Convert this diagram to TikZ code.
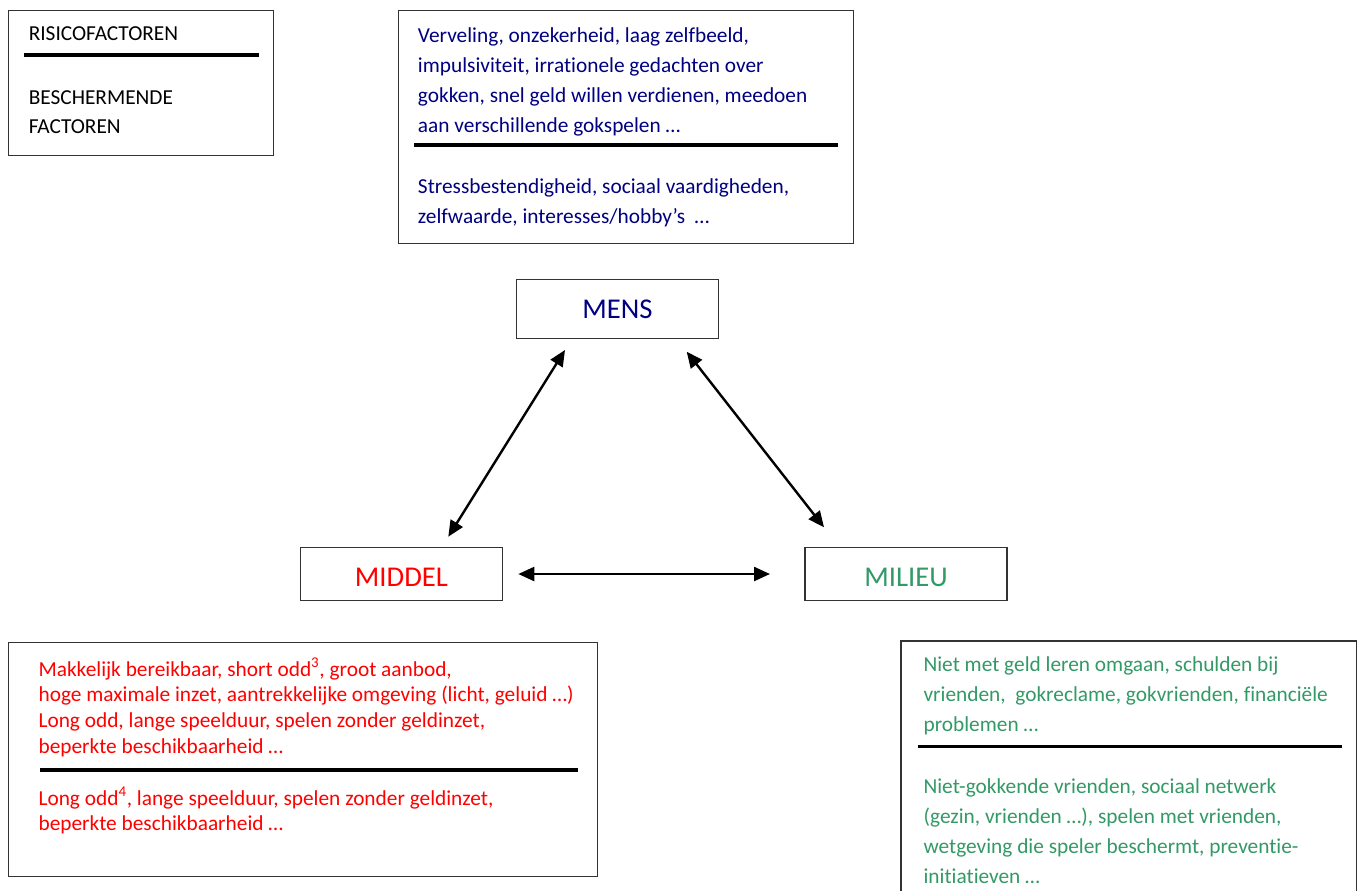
\documentclass[tikz,border=0pt]{standalone}
\usepackage{fontspec}
\setmainfont{Carlito}[Ligatures=NoCommon]
\usetikzlibrary{arrows.meta}
\definecolor{mensblue}{RGB}{0,0,128}
\definecolor{midred}{RGB}{255,0,0}
\definecolor{milgreen}{RGB}{51,153,102}
\newcommand{\lowlabel}[1]{\raisebox{-3pt}[\height][0pt]{#1}}
\begin{document}
\begin{tikzpicture}[x=0.75pt,y=-0.75pt,
  box/.style={draw=black!80,line width=0.95pt,anchor=north west,inner sep=0pt},
  txt/.style={anchor=base west,inner sep=0pt,font=\fontsize{16}{19}\selectfont},
  rulebar/.style={line width=2.3pt},
  mainbox/.style={draw=black!80,line width=0.95pt,minimum width=202*0.75pt,inner sep=0pt,font=\fontsize{21.5}{26}\selectfont},
  biarrow/.style={line width=1.8pt,{Triangle[length=12pt,width=10.5pt]}-{Triangle[length=12pt,width=10.5pt]}}]

\useasboundingbox[fill=white] (0,0) rectangle (1363,890);

% legend
\node[box,minimum width=265.5*0.75pt,minimum height=144.5*0.75pt] (legend) at (7.5,10) {};
\node[txt] (leg1) at (28.5,40.7) {RISICOFACTOREN};
\coordinate (legrA) at (24,55);
\coordinate (legrB) at (259,55);
\draw[rulebar] (legrA) -- (legrB);
\node[txt] (leg2) at (28.5,104) {BESCHERMENDE};
\node[txt] (leg3) at (28.5,133) {FACTOREN};

% MENS factors
\node[box,minimum width=455*0.75pt,minimum height=233*0.75pt] (mensbox) at (397.5,10) {};
\foreach \t [count=\i] in {{Verveling, onzekerheid, laag zelfbeeld,},{impulsiviteit, irrationele gedachten over},{gokken, snel geld willen verdienen, meedoen},{aan verschillende gokspelen …}}
  \node[txt,text=mensblue] (mensr\i) at (417.7,{42.3+30*(\i-1)}) {\t};
\coordinate (mensrA) at (414,145);
\coordinate (mensrB) at (838,145);
\draw[rulebar] (mensrA) -- (mensrB);
\foreach \t [count=\i] in {{Stressbestendigheid, sociaal vaardigheden,},{zelfwaarde, interesses/hobby’s\ \ …}}
  \node[txt,text=mensblue] (mensp\i) at (417.7,{193.3+30*(\i-1)}) {\t};

% MIDDEL factors
\node[box,minimum width=589*0.75pt,minimum height=234.2*0.75pt] (midbox) at (7.5,641.5) {};
\foreach \t [count=\i] in {{Makkelijk bereikbaar, short odd\textsuperscript{3}, groot aanbod,},{hoge maximale inzet, aantrekkelijke omgeving (licht, geluid …)},{Long odd, lange speelduur, spelen zonder geldinzet,},{beperkte beschikbaarheid …}}
  \node[txt,text=midred] (midr\i) at (38.3,{676+25.7*(\i-1)}) {\t};
\coordinate (midrA) at (40,770);
\coordinate (midrB) at (578,770);
\draw[rulebar] (midrA) -- (midrB);
\foreach \t [count=\i] in {{Long odd\textsuperscript{4}, lange speelduur, spelen zonder geldinzet,},{beperkte beschikbaarheid …}}
  \node[txt,text=midred] (midp\i) at (38.3,{805+25.5*(\i-1)}) {\t};

% MILIEU factors (box runs off the bottom)
\coordinate (milBL) at (901,900);
\coordinate (milTL) at (901,641);
\coordinate (milTR) at (1356.7,641);
\coordinate (milBR) at (1356.7,900);
\draw[draw=black!80,line width=0.95pt] (milBL) -- (milTL) -- (milTR) -- (milBR);
\foreach \t [count=\i] in {{Niet met geld leren omgaan, schulden bij},{vrienden,\ \ gokreclame, gokvrienden, financiële},{problemen …}}
  \node[txt,text=milgreen] (milr\i) at (923.3,{671.7+30*(\i-1)}) {\t};
\coordinate (milrA) at (917.7,746.7);
\coordinate (milrB) at (1341.7,746.7);
\draw[rulebar] (milrA) -- (milrB);
\foreach \t [count=\i] in {{Niet-gokkende vrienden, sociaal netwerk},{(gezin, vrienden …), spelen met vrienden,},{wetgeving die speler beschermt, preventie-},{initiatieven …}}
  \node[txt,text=milgreen] (milp\i) at (923.3,{793.3+30*(\i-1)}) {\t};

% main nodes
\node[mainbox,minimum height=59*0.75pt,text=mensblue] (mens) at (617.5,308.8) {MENS};
\node[mainbox,minimum height=53*0.75pt,text=midred] (middel) at (401.5,573.7) {\lowlabel{MIDDEL}};
\node[mainbox,minimum height=53*0.75pt,text=milgreen] (milieu) at (906,573.7) {\lowlabel{MILIEU}};

% connectors
\coordinate (lt) at (565,350);
\coordinate (lb) at (448.3,536.7);
\coordinate (rt) at (686.7,351.7);
\coordinate (rb) at (824,527.3);
\coordinate (hl) at (518.3,574);
\coordinate (hr) at (770,574);
\draw[biarrow] (lb) -- (lt);
\draw[biarrow] (rb) -- (rt);
\draw[biarrow] (hl) -- (hr);
\end{tikzpicture}
\end{document}
